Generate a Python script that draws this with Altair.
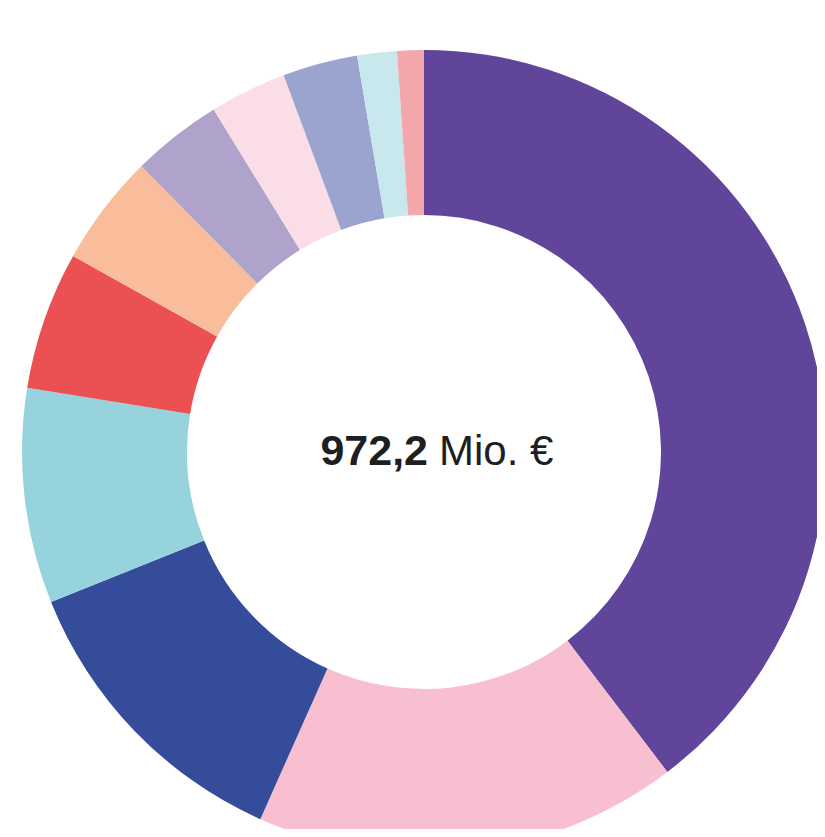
import altair as alt
import pandas as pd

categories = ["Kategorie 1", "Kategorie 2", "Kategorie 3", "Kategorie 4", "Kategorie 5",
              "Kategorie 6", "Kategorie 7", "Kategorie 8", "Kategorie 9", "Kategorie 10",
              "Kategorie 11"]
values = [385.5, 165.5, 119.0, 84.0, 54.0, 43.5, 35.5, 30.0, 29.3, 15.5, 10.4]
colors = ["#61459a", "#f7bfcf", "#344c9a", "#97d3dc", "#eb5053", "#fabd9c",
          "#afa3cb", "#fadde6", "#9aa4cf", "#c8e8ee", "#f4a7aa"]
total_bold = "972,2"
total_unit = "Mio. €"

df = pd.DataFrame({"category": categories, "value": values, "order": list(range(len(categories)))})

cx, cy = 416, 444

arcs = alt.Chart(df).mark_arc(radius=402, innerRadius=237, stroke=None).encode(
    theta=alt.Theta("value:Q", stack=True),
    order=alt.Order("order:Q", sort="ascending"),
    color=alt.Color("category:N", scale=alt.Scale(domain=categories, range=colors), legend=None),
    x=alt.value(cx),
    y=alt.value(cy),
)

t1 = alt.Chart(pd.DataFrame({"t": [total_bold]})).mark_text(
    font="Liberation Sans", fontSize=43, fontWeight="bold", align="right",
    baseline="alphabetic", color="#1f1f1f"
).encode(text="t:N", x=alt.value(cx + 4), y=alt.value(cy + 13))

t2 = alt.Chart(pd.DataFrame({"t": [total_unit]})).mark_text(
    font="Liberation Sans", fontSize=42, fontWeight="normal", align="left",
    baseline="alphabetic", color="#1f1f1f"
).encode(text="t:N", x=alt.value(cx + 15), y=alt.value(cy + 13))

chart = alt.layer(arcs, t1, t2).properties(
    width=809, height=821, padding=0,
    autosize=alt.AutoSizeParams(type="none"),
).configure_view(stroke=None)

chart.save("out.html", embed_options={"renderer": "svg", "actions": False})
